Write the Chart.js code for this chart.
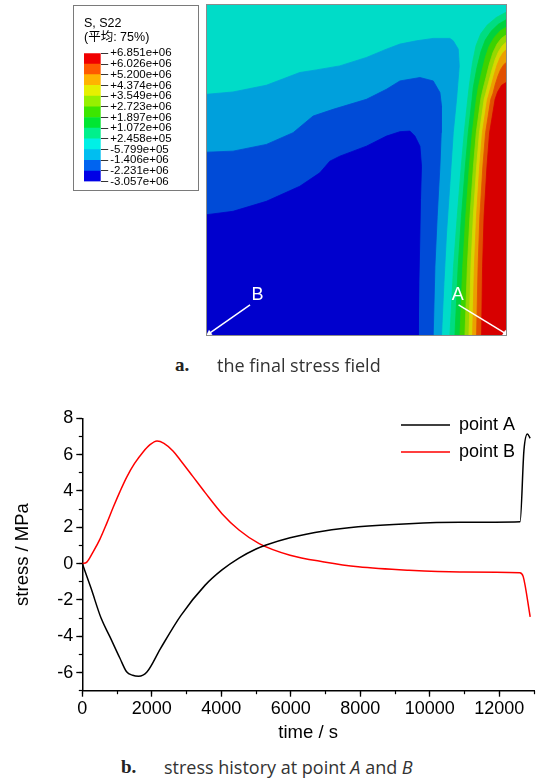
<!DOCTYPE html>
<html>
<head>
<meta charset="utf-8">
<script src="https://cdn.jsdelivr.net/npm/chart.js@4.4.1/dist/chart.umd.min.js"></script>
<style>
  html, body { margin: 0; padding: 0; background: #fff; }
  body { width: 536px; height: 780px; position: relative; overflow: hidden; }
  .abs { position: absolute; }
  #keyBox { left: 73px; top: 5px; width: 126px; height: 186px; border: 1px solid #7a7a7a; box-sizing: border-box; background: #fff; }
  #fieldBox { left: 207px; top: 5px; width: 299px; height: 330px; outline: 1px solid #8c8c8c; background: #00dcc8; }
  #histBox { left: 0; top: 395px; width: 536px; height: 355px; }
  canvas { display: block; }
  .cap { font-family: 'Open Sans', 'DejaVu Sans', sans-serif; font-size: 18px; color: #333; white-space: nowrap; line-height: 26px; }
  .capTag { font-family: 'Liberation Serif', 'DejaVu Serif', serif; font-weight: bold; font-size: 19px; color: #222; line-height: 26px; }
</style>
</head>
<body>
<div id="keyBox" class="abs"><canvas id="key" width="124" height="184"></canvas></div>
<div id="fieldBox" class="abs"><canvas id="field" width="299" height="330"></canvas></div>
<div class="abs capTag" style="left:175px; top:352px;">a.</div>
<div class="abs cap" style="left:217px; top:352px;">the final stress field</div>
<div id="histBox" class="abs"><canvas id="hist" width="536" height="355"></canvas></div>
<div class="abs capTag" style="left:121px; top:754px;">b.</div>
<div class="abs cap" style="left:164px; top:754px;">stress history at point <i>A</i> and <i>B</i></div>

<script>
var SANS = "'Liberation Sans', Arial, sans-serif";

// ---- contour key (S, S22) ----
var keyTitle = ['S, S22', '(平均: 75%)'];
var keyTicks = ['+6.851e+06', '+6.026e+06', '+5.200e+06', '+4.374e+06', '+3.549e+06', '+2.723e+06',
  '+1.897e+06', '+1.072e+06', '+2.458e+05', '-5.799e+05', '-1.406e+06', '-2.231e+06', '-3.057e+06'];
// band colours, lowest band first
var keyColors = ['#0000e6', '#0064f0', '#00bef0', '#00f0e6', '#00f08c', '#00e632', '#3ce600',
  '#96f000', '#e6f000', '#ffb400', '#ff5a00', '#f00000'];
var fieldColors = ['#0000cd', '#004bd7', '#00a0dc', '#00dcc8', '#00dc82', '#00d23c', '#3cd200',
  '#96d700', '#d7d700', '#eba000', '#e15000', '#d70000'];

// ---- stress field: band edges (field 298.7 wide, 329 tall) ----
var fieldW = 298.7, fieldH = 329;
var edgeBand3 = [[0,240],[26,242.3],[59.3,249],[92.7,261.7],[109.3,264.3],[132.7,268.3],[159.3,276.7],
  [179.3,285],[192.7,290],[209.3,293.3],[226,295.7],[242.7,295.7],[246,293.3],[251,285],[252,268.3],
  [249.3,235],[246,201.7],[242.7,151.7],[239.3,101.7],[236.7,51.7],[234.3,0]];
var edgeBand2 = [[0,182.3],[26,183.3],[59.3,190],[86,201.7],[106,218.3],[126,225],[159.3,235],[179.3,245],
  [192.7,253.3],[212.7,256.7],[226,253.3],[232.7,241.7],[234.3,228.3],[234,201.7],[232.7,168.3],
  [230,118.3],[227.7,68.3],[226,0]];
var edgeBand1 = [[0,120],[26,123.3],[59.3,133.3],[92.7,148.3],[112.7,161.7],[122.7,173.3],[132.7,178.3],
  [159.3,188.3],[179.3,198.3],[192.7,202.7],[202.7,203.3],[207.7,198.3],[212.7,188.3],[214.3,168.3],
  [213.3,135],[212.7,101.7],[211.7,51.7],[211,0]];
var edgeBand5 = [[298.7,321.7],[289.3,316.7],[280,309],[273.3,300],[268.7,288.3],[265.3,271.7],[262,248.3],
  [260.5,235],[257,201.7],[254,168.3],[250,118.3],[246.3,68.3],[242.7,0]];
var edgeBand6 = [[298.7,314.3],[291,309.7],[283.7,302.7],[278,294],[273.7,282.7],[269.7,266.7],[266,246.7],
  [264.8,235],[261,201.7],[258.1,168.3],[254.2,118.3],[250.9,68.3],[247.7,0]];
var edgeBand7 = [[298.7,306.7],[292.7,303],[287,296.7],[282,288.3],[278,276.7],[274.3,261.7],[271,246.7],
  [269.1,235],[265,201.7],[262.1,168.3],[258.5,118.3],[255.5,68.3],[252.7,0]];
var edgeBand8 = [[298.7,299],[294,295.7],[289.7,290],[285.7,281.7],[282,270],[278.7,256.7],[275.3,243.3],
  [273.5,235],[269,201.7],[266.2,168.3],[262.7,118.3],[260.1,68.3],[257.7,0]];
var edgeBand9 = [[298.7,291.7],[295,288.3],[291.3,282.7],[288,275],[284.7,264.3],[281.3,251.7],[278.3,240],
  [276.9,235],[272.2,201.7],[269.4,168.3],[266.1,118.3],[263.7,68.3],[261.7,0]];
var edgeBand10 = [[298.7,284.3],[295.7,281.3],[292.7,276.3],[289.7,269],[286.7,259],[283.7,247.7],[281,237.7],
  [280.1,235],[275.1,201.7],[272.4,168.3],[269.2,118.3],[267.1,68.3],[265.3,0]];
var edgeBand11 = [[298.7,271.7],[296.3,269.3],[293.3,264.7],[290.7,258.3],[288,250],[285.7,241],[283.5,235],
  [278.3,201.7],[275.6,168.3],[272.6,118.3],[270.8,68.3],[269.3,0]];
var edgeBand12 = [[298.7,251.7],[294.3,249],[290.3,242.3],[287.8,235],[282.3,201.7],[279.7,168.3],
  [276.8,118.3],[275.3,68.3],[274.3,0]];

var markNames = ['B', 'A'];
var markLabelAt = [[50.5, 39.5], [250.5, 39.5]];
var markArrowFrom = [[43, 30], [251.3, 30]];
var markArrowTo = [[2.3, 1.7], [298, 1.7]];

// ---- stress history ----
var timeA = [0, 250, 540, 800, 1080, 1275, 1450, 1620, 1860, 2250, 2840, 3530, 4020, 4510, 5000, 5290, 5980,
  6960, 7940, 9400, 10870, 12600, 12710, 12810, 12890];
var stressA = [0, -1.35, -3.0, -4.05, -5.2, -5.96, -6.15, -6.2, -5.97, -4.68, -2.85, -1.2, -0.35, 0.3, 0.8,
  1.02, 1.42, 1.8, 2.03, 2.2, 2.27, 2.3, 6.23, 7.14, 6.9];
var timeB = [0, 130, 316, 508, 700, 890, 1080, 1275, 1500, 1750, 1950, 2150, 2350, 2610, 2840, 3180, 3530,
  4020, 4510, 5090, 5980, 6960, 7940, 9400, 10870, 12590, 12690, 12890];
var stressB = [0, 0.08, 0.66, 1.35, 2.2, 3.1, 3.95, 4.75, 5.5, 6.15, 6.55, 6.75, 6.62, 6.2, 5.65, 4.8, 3.92,
  2.75, 1.85, 1.1, 0.46, 0.09, -0.18, -0.37, -0.46, -0.5, -0.72, -2.93];
var seriesNames = ['point A', 'point B'];
var seriesColors = ['#000000', '#ff0000'];

function toXY(pairs) {
  return pairs.map(function (p) { return { x: p[0], y: p[1] }; });
}

// key: stacked bar, one block per band
new Chart(document.getElementById('key'), {
  type: 'bar',
  data: {
    labels: [''],
    datasets: keyColors.map(function (c, i) {
      return { label: 'band ' + (i + 1), data: [1], backgroundColor: c, borderWidth: 0, barPercentage: 1, categoryPercentage: 1 };
    })
  },
  options: {
    responsive: false, animation: false, events: [],
    layout: { padding: { left: 10, right: 0, top: 0, bottom: 8.3 }, autoPadding: false },
    plugins: {
      legend: { display: false }, tooltip: { enabled: false },
      title: { display: true, text: keyTitle, align: 'start', color: '#000',
        font: { family: SANS + ", 'Noto Sans CJK SC'", size: 12.5, weight: 'normal', lineHeight: 1.08 },
        padding: { top: 11, bottom: 9.3 } }
    },
    scales: {
      x: { stacked: true, display: false },
      y: {
        stacked: true, position: 'right', min: 0, max: 12,
        ticks: { stepSize: 1, autoSkip: false, color: '#000', padding: 2,
          font: { family: SANS, size: 11.5, lineHeight: 1 },
          callback: function (v) { return keyTicks[12 - v]; } },
        grid: { drawOnChartArea: false, tickLength: 7.5, tickColor: '#000', tickWidth: 0.8 },
        border: { display: false },
        afterFit: function (s) { s.width = 97.3; }
      }
    }
  }
});

// stress field: painted band by band
var fieldSets = [];
function addBand(edge, corner, color) {
  fieldSets.push({ data: toXY(edge.concat([corner])), backgroundColor: color, borderColor: color,
    borderWidth: 0.8, fill: 'shape', pointRadius: 0 });
}
addBand(edgeBand3, [0, 0], fieldColors[2]);
addBand(edgeBand2, [0, 0], fieldColors[1]);
addBand(edgeBand1, [0, 0], fieldColors[0]);
[edgeBand5, edgeBand6, edgeBand7, edgeBand8, edgeBand9, edgeBand10, edgeBand11, edgeBand12].forEach(function (e, i) {
  addBand(e, [fieldW, 0], fieldColors[4 + i]);
});

function arrowAngle(ctx) {
  var d = ctx.dataset.data, sx = ctx.chart.scales.x, sy = ctx.chart.scales.y;
  var dx = sx.getPixelForValue(d[1].x) - sx.getPixelForValue(d[0].x);
  var dy = sy.getPixelForValue(d[1].y) - sy.getPixelForValue(d[0].y);
  return Math.atan2(dx, -dy) * 180 / Math.PI;
}
markNames.forEach(function (n, i) {
  fieldSets.push({ data: toXY([markArrowFrom[i], markArrowTo[i]]), borderColor: '#fff', borderWidth: 1.5,
    fill: false, pointRadius: [0, 3.5], pointStyle: 'triangle', pointBackgroundColor: '#fff',
    pointBorderWidth: 0, pointRotation: arrowAngle });
});
fieldSets.forEach(function (ds, i) { ds.order = fieldSets.length - i; });

var markText = {
  id: 'markText',
  afterDatasetsDraw: function (chart) {
    var ctx = chart.ctx, sx = chart.scales.x, sy = chart.scales.y;
    ctx.save();
    ctx.fillStyle = '#fff';
    ctx.font = '18px ' + SANS;
    ctx.textAlign = 'center';
    ctx.textBaseline = 'middle';
    markNames.forEach(function (n, i) {
      ctx.fillText(n, sx.getPixelForValue(markLabelAt[i][0]), sy.getPixelForValue(markLabelAt[i][1]));
    });
    ctx.restore();
  }
};

new Chart(document.getElementById('field'), {
  type: 'line',
  data: { datasets: fieldSets },
  options: {
    responsive: false, animation: false, events: [],
    layout: { padding: 0, autoPadding: false },
    plugins: { legend: { display: false }, tooltip: { enabled: false } },
    scales: {
      x: { type: 'linear', min: 0, max: fieldW, display: false },
      y: { type: 'linear', min: 0, max: fieldH, display: false }
    }
  },
  plugins: [markText]
});

// legend sits inside the plot, top right
var legendSpot = {
  id: 'legendSpot',
  afterLayout: function (chart) {
    var lg = chart.legend;
    if (!lg) return;
    lg.left = 392; lg.top = 12;
    lg.right = chart.width; lg.bottom = chart.chartArea.bottom;
  }
};

var axisFont = { family: SANS, size: 18 };
var majorStep = 2000;
new Chart(document.getElementById('hist'), {
  type: 'line',
  data: {
    datasets: [
      { label: seriesNames[0], data: timeA.map(function (t, i) { return { x: t, y: stressA[i] }; }),
        borderColor: seriesColors[0], backgroundColor: seriesColors[0], borderWidth: 1.5, pointRadius: 0,
        fill: false, cubicInterpolationMode: 'monotone' },
      { label: seriesNames[1], data: timeB.map(function (t, i) { return { x: t, y: stressB[i] }; }),
        borderColor: seriesColors[1], backgroundColor: seriesColors[1], borderWidth: 1.5, pointRadius: 0,
        fill: false, cubicInterpolationMode: 'monotone' }
    ]
  },
  options: {
    responsive: false, animation: false, events: [],
    layout: { padding: { top: 23.3, right: 0, left: 0, bottom: 0 }, autoPadding: false },
    plugins: {
      tooltip: { enabled: false },
      legend: { position: 'chartArea', align: 'start',
        labels: { boxWidth: 49, boxHeight: 0, padding: 9, color: '#000', font: { family: SANS, size: 18 } } }
    },
    scales: {
      x: {
        type: 'linear', min: 0, max: 13000, weight: 1,
        ticks: { stepSize: 1000, autoSkip: false, maxRotation: 0, color: '#000', padding: 2,
          font: axisFont, callback: function (v) { return v % majorStep === 0 ? String(v) : ''; } },
        grid: { drawOnChartArea: false, tickLength: 6, tickWidth: 1.3,
          tickColor: function (c) { return c.tick && c.tick.value % majorStep === 0 ? '#000' : 'rgba(0,0,0,0)'; } },
        border: { color: '#000', width: 1.5 },
        title: { display: true, text: 'time / s', color: '#000', font: { family: SANS, size: 18.5 }, padding: { top: 0, bottom: 6 } },
        afterFit: function (s) { s.height = 59.3; }
      },
      xMinor: {
        type: 'linear', position: 'bottom', min: 0, max: 13000, weight: 0,
        ticks: { stepSize: 1000, display: false },
        grid: { drawOnChartArea: false, tickLength: 3.5, tickColor: '#000', tickWidth: 1.2 },
        border: { display: false },
        afterFit: function (s) { s.height = 0; }
      },
      y: {
        type: 'linear', position: 'left', min: -7, max: 8, weight: 1,
        ticks: { stepSize: 2, includeBounds: false, autoSkip: false, color: '#000', padding: 3,
          font: axisFont, callback: function (v) { return String(v); } },
        grid: { drawOnChartArea: false, tickLength: 6, tickColor: '#000', tickWidth: 1.3 },
        border: { color: '#000', width: 1.5 },
        title: { display: true, text: 'stress / MPa', color: '#000', font: { family: SANS, size: 18.5 }, padding: { top: 11.5, bottom: 0 } },
        afterFit: function (s) { s.width = 82.3; }
      },
      yMinor: {
        type: 'linear', position: 'left', min: -7, max: 8, weight: 0,
        ticks: { stepSize: 1, display: false },
        grid: { drawOnChartArea: false, tickLength: 3.5, tickColor: '#000', tickWidth: 1.2 },
        border: { display: false },
        afterFit: function (s) { s.width = 0; }
      }
    }
  },
  plugins: [legendSpot]
});
</script>
</body>
</html>
